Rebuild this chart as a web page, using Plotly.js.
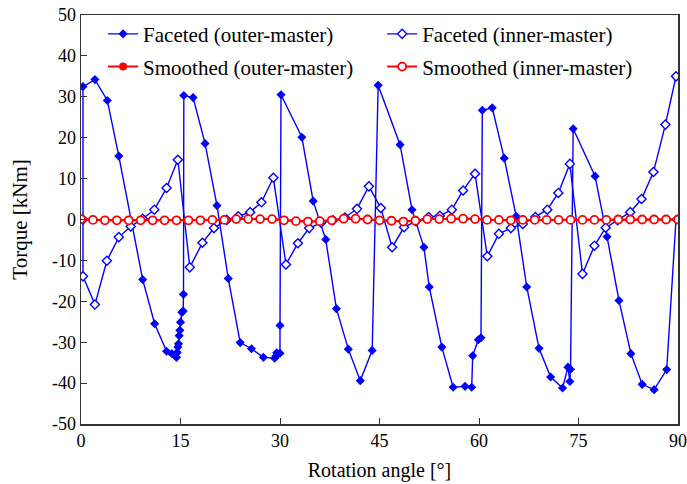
<!DOCTYPE html>
<html>
<head>
<meta charset="utf-8">
<script src="https://cdn.plot.ly/plotly-3.0.1.min.js"></script>
<style>html,body{margin:0;padding:0;background:#fff;}#chart{width:687px;height:484px;}</style>
</head>
<body>
<div id="chart"></div>
<script>
// Faceted (outer-master)
const outerFacetedAngle = [0.3,0.3,2.1,3.97,5.7,9.3,11.1,12.9,13.7,14.1,14.4,14.5,14.6,14.7,14.8,14.9,15.0,15.2,15.4,15.45,15.5,16.9,18.7,20.5,22.2,24.0,25.7,27.5,29.2,29.4,29.5,30.0,30.0,30.15,33.3,35.0,36.9,38.5,40.3,42.1,43.9,44.8,48.1,49.9,51.7,52.5,54.4,56.1,57.9,58.9,59.05,59.9,60.3,60.5,62.0,63.8,65.6,67.2,69.05,70.8,72.6,73.4,73.7,73.8,74.2,77.5,79.3,81.1,82.9,84.6,86.4,88.3,89.7];
const outerFacetedTorque = [0,32.5,34.2,29.1,15.5,-14.7,-25.5,-32.2,-32.8,-33.2,-33.7,-32.5,-31.2,-30.4,-28.4,-27.1,-25.1,-22.7,-22.4,-18.3,30.3,29.8,18.6,3.4,-14.4,-30.1,-31.6,-33.7,-33.9,-33.4,-32.6,-32.7,-25.9,30.5,20.1,4.5,-4.9,-21.8,-31.7,-39.4,-32.0,32.8,18.3,2.4,-6.8,-16.5,-31.2,-41.0,-40.8,-41.0,-33.3,-29.4,-28.9,26.7,27.3,15.0,0.8,-16.5,-31.5,-38.5,-41.2,-36.1,-39.6,-36.6,22.2,10.6,-4.2,-19.8,-32.8,-40.3,-41.6,-36.7,0];

// Faceted (inner-master)
const innerFacetedAngle = [0.3,0.3,2.1,3.9,5.7,7.5,9.3,11.05,12.9,14.6,16.4,18.3,20.05,21.96,23.7,25.5,27.2,29.0,30.9,32.7,34.4,36.2,38.0,39.8,41.6,43.4,45.2,46.9,48.7,50.5,52.4,54.1,55.9,57.6,59.4,61.25,63.0,64.8,66.6,68.5,70.3,71.96,73.7,75.6,77.4,79.1,80.9,82.8,84.5,86.3,88.1,89.7];
const innerFacetedTorque = [0,-13.9,-20.8,-10.1,-4.3,-1.7,0.2,2.4,7.7,14.6,-11.7,-5.7,-2.1,-0.1,0.8,1.8,4.2,10.2,-11.0,-5.8,-2.1,-0.8,-0.2,0.5,2.6,8.1,2.8,-6.8,-1.9,-0.4,0.6,0.9,2.4,7.1,11.2,-9.0,-3.5,-2.1,-1.1,0.6,2.4,6.5,13.6,-13.3,-6.4,-2.0,-0.2,1.8,5.0,11.6,23.2,35.0];

// Smoothed series (1.8 deg steps)
const smoothAngle = [0,1.8,3.6,5.4,7.2,9,10.8,12.6,14.4,16.2,18,19.8,21.6,23.4,25.2,27,28.8,30.6,32.4,34.2,36,37.8,39.6,41.4,43.2,45,46.8,48.6,50.4,52.2,54,55.8,57.6,59.4,61.2,63,64.8,66.6,68.4,70.2,72,73.8,75.6,77.4,79.2,81,82.8,84.6,86.4,88.2,90];
const outerSmoothTorque = [0.1,-0.1,-0.2,-0.2,-0.2,-0.2,-0.2,-0.2,-0.2,-0.2,-0.2,-0.1,-0.1,0.1,0.1,0.1,0.1,-0.2,-0.4,-0.5,-0.4,-0.2,0.2,0.2,0.0,-0.2,-0.3,-0.5,-0.3,0.1,0.1,0.2,0.2,0.1,-0.1,-0.1,-0.2,-0.1,-0.1,-0.1,-0.1,-0.1,-0.1,-0.1,-0.1,0.0,0.0,0.0,0.0,0.0,0.0];
const innerSmoothTorque = [0.1,-0.1,-0.2,-0.2,-0.2,-0.2,-0.2,-0.2,-0.2,-0.2,-0.2,-0.1,-0.1,0.1,0.1,0.1,0.1,-0.2,-0.4,-0.5,-0.4,-0.2,0.2,0.2,0.0,-0.2,-0.3,-0.5,-0.3,0.1,0.1,0.2,0.2,0.1,-0.1,-0.1,-0.2,-0.1,-0.1,-0.1,-0.1,-0.1,-0.1,-0.1,-0.1,0.0,0.0,0.0,0.0,0.0,0.0];

const xTicks = [0,15,30,45,60,75,90];
const yTicks = [-50,-40,-30,-20,-10,0,10,20,30,40,50];

const FONT = 'Liberation Serif, "DejaVu Serif", serif';
const BLUE = '#0000ff', RED = '#ff0000';

const traces = [
  {x: outerFacetedAngle, y: outerFacetedTorque, name: 'Faceted (outer-master)', mode: 'lines+markers',
   line: {color: BLUE, width: 1.4}, marker: {symbol: 'diamond', size: 7, color: BLUE}, legend: 'legend'},
  {x: innerFacetedAngle, y: innerFacetedTorque, name: 'Faceted (inner-master)', mode: 'lines+markers',
   line: {color: BLUE, width: 1.4}, marker: {symbol: 'diamond', size: 7, color: '#ffffff', line: {color: BLUE, width: 1.4}}, legend: 'legend2'},
  {x: smoothAngle, y: outerSmoothTorque, name: 'Smoothed (outer-master)', mode: 'lines+markers',
   line: {color: RED, width: 2}, marker: {symbol: 'circle', size: 8, color: RED}, legend: 'legend3'},
  {x: smoothAngle, y: innerSmoothTorque, name: 'Smoothed (inner-master)', mode: 'lines+markers',
   line: {color: RED, width: 2}, marker: {symbol: 'circle', size: 8, color: '#ffffff', line: {color: RED, width: 1.8}}, legend: 'legend4'}
];

function leg(x, y) {
  return {orientation: 'v', xanchor: 'left', yanchor: 'middle', x: x, y: y,
    font: {family: FONT, size: 21, color: '#000'}, bgcolor: 'rgba(0,0,0,0)', borderwidth: 0};
}

const layout = {
  width: 687, height: 484,
  margin: {l: 81, r: 9, t: 15, b: 60},
  paper_bgcolor: '#fff', plot_bgcolor: '#fff',
  font: {family: FONT, size: 18, color: '#000'},
  showlegend: true,
  legend: leg(0.037, 0.953),
  legend2: leg(0.5045, 0.953),
  legend3: leg(0.037, 0.873),
  legend4: leg(0.5045, 0.873),
  xaxis: {range: [0, 90], tickvals: xTicks, ticktext: xTicks.map(String), ticks: 'inside', ticklen: 6,
    tickcolor: '#333', showline: true, linecolor: '#333', linewidth: 1.5, mirror: true, showgrid: false, zeroline: false,
    tickfont: {family: FONT, size: 18}, title: {text: 'Rotation angle [°]', font: {family: FONT, size: 20}, standoff: 13}},
  yaxis: {range: [-50, 50], tickvals: yTicks, ticktext: yTicks.map(String), ticks: 'inside', ticklen: 6,
    tickcolor: '#333', showline: true, linecolor: '#333', linewidth: 1.5, mirror: true, showgrid: false, zeroline: false,
    tickfont: {family: FONT, size: 18}, title: {text: 'Torque [kNm]', font: {family: FONT, size: 21}, standoff: 18}}
};

Plotly.newPlot('chart', traces, layout, {displayModeBar: false, staticPlot: true});
</script>
</body>
</html>
